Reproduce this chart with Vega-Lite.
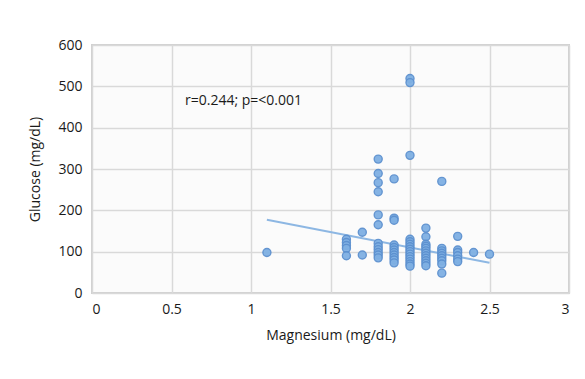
{
  "$schema": "https://vega.github.io/schema/vega-lite/v6.json",
  "width": 477,
  "height": 248,
  "autosize": "none",
  "padding": {"left": 92, "top": 45, "right": 16, "bottom": 86},
  "background": "white",
  "config": {
    "view": {"stroke": "#d0d0d0", "strokeWidth": 2, "fill": "#fbfbfb"},
    "font": "Open Sans",
    "axis": {
      "grid": true, "gridColor": "#d9d9d9", "gridWidth": 1.5,
      "domain": false, "ticks": false,
      "labelColor": "#1a1a1a", "labelFontSize": 14, "labelFont": "Open Sans",
      "titleColor": "#1a1a1a", "titleFontSize": 14, "titleFont": "Open Sans", "titleFontWeight": "normal"
    }
  },
  "datasets": {
    "pts": [
      {"mg": 1.1, "glu": 98},
      {"mg": 1.6, "glu": 130}, {"mg": 1.6, "glu": 122}, {"mg": 1.6, "glu": 115}, {"mg": 1.6, "glu": 108}, {"mg": 1.6, "glu": 90},
      {"mg": 1.7, "glu": 147}, {"mg": 1.7, "glu": 92},
      {"mg": 1.8, "glu": 324}, {"mg": 1.8, "glu": 289}, {"mg": 1.8, "glu": 267}, {"mg": 1.8, "glu": 245}, {"mg": 1.8, "glu": 189}, {"mg": 1.8, "glu": 165},
      {"mg": 1.8, "glu": 120}, {"mg": 1.8, "glu": 112}, {"mg": 1.8, "glu": 105}, {"mg": 1.8, "glu": 98}, {"mg": 1.8, "glu": 92}, {"mg": 1.8, "glu": 85},
      {"mg": 1.9, "glu": 276}, {"mg": 1.9, "glu": 181}, {"mg": 1.9, "glu": 176}, {"mg": 1.9, "glu": 116}, {"mg": 1.9, "glu": 110}, {"mg": 1.9, "glu": 104},
      {"mg": 1.9, "glu": 98}, {"mg": 1.9, "glu": 92}, {"mg": 1.9, "glu": 86}, {"mg": 1.9, "glu": 80}, {"mg": 1.9, "glu": 73},
      {"mg": 2.0, "glu": 519}, {"mg": 2.0, "glu": 509}, {"mg": 2.0, "glu": 333}, {"mg": 2.0, "glu": 130}, {"mg": 2.0, "glu": 124}, {"mg": 2.0, "glu": 118},
      {"mg": 2.0, "glu": 112}, {"mg": 2.0, "glu": 106}, {"mg": 2.0, "glu": 100}, {"mg": 2.0, "glu": 94}, {"mg": 2.0, "glu": 88}, {"mg": 2.0, "glu": 82},
      {"mg": 2.0, "glu": 76}, {"mg": 2.0, "glu": 70}, {"mg": 2.0, "glu": 65},
      {"mg": 2.1, "glu": 157}, {"mg": 2.1, "glu": 136}, {"mg": 2.1, "glu": 118}, {"mg": 2.1, "glu": 113}, {"mg": 2.1, "glu": 108}, {"mg": 2.1, "glu": 102},
      {"mg": 2.1, "glu": 96}, {"mg": 2.1, "glu": 90}, {"mg": 2.1, "glu": 84}, {"mg": 2.1, "glu": 78}, {"mg": 2.1, "glu": 72}, {"mg": 2.1, "glu": 66},
      {"mg": 2.2, "glu": 270}, {"mg": 2.2, "glu": 108}, {"mg": 2.2, "glu": 102}, {"mg": 2.2, "glu": 96}, {"mg": 2.2, "glu": 90}, {"mg": 2.2, "glu": 84},
      {"mg": 2.2, "glu": 78}, {"mg": 2.2, "glu": 70}, {"mg": 2.2, "glu": 48},
      {"mg": 2.3, "glu": 137}, {"mg": 2.3, "glu": 104}, {"mg": 2.3, "glu": 98}, {"mg": 2.3, "glu": 90}, {"mg": 2.3, "glu": 82}, {"mg": 2.3, "glu": 76},
      {"mg": 2.4, "glu": 98},
      {"mg": 2.5, "glu": 94}
    ],
    "fit": [
      {"mg": 1.1, "glu": 177},
      {"mg": 2.5, "glu": 73}
    ],
    "note": [
      {"mg": 0.585, "glu": 464, "label": "r=0.244; p=<0.001"}
    ]
  },
  "layer": [
    {
      "data": {"name": "fit"},
      "mark": {"type": "line", "color": "#8db7e3", "strokeWidth": 2},
      "encoding": {
        "x": {"field": "mg", "type": "quantitative", "scale": {"domain": [0, 3]},
              "axis": {"values": [0, 0.5, 1, 1.5, 2, 2.5, 3], "format": "~g", "title": "Magnesium (mg/dL)", "labelPadding": 9, "titlePadding": 12}},
        "y": {"field": "glu", "type": "quantitative", "scale": {"domain": [0, 600]},
              "axis": {"values": [0, 100, 200, 300, 400, 500, 600], "title": "Glucose (mg/dL)", "labelPadding": 10, "titlePadding": 15}}
      }
    },
    {
      "data": {"name": "pts"},
      "mark": {"type": "point", "filled": true, "size": 64, "color": "#7fb0e3", "stroke": "#5c90cf", "strokeWidth": 1.4, "opacity": 0.95},
      "encoding": {
        "x": {"field": "mg", "type": "quantitative"},
        "y": {"field": "glu", "type": "quantitative"}
      }
    },
    {
      "data": {"name": "note"},
      "mark": {"type": "text", "align": "left", "baseline": "middle", "fontSize": 14, "color": "#1a1a1a", "font": "Open Sans"},
      "encoding": {
        "x": {"field": "mg", "type": "quantitative"},
        "y": {"field": "glu", "type": "quantitative"},
        "text": {"field": "label"}
      }
    }
  ]
}
